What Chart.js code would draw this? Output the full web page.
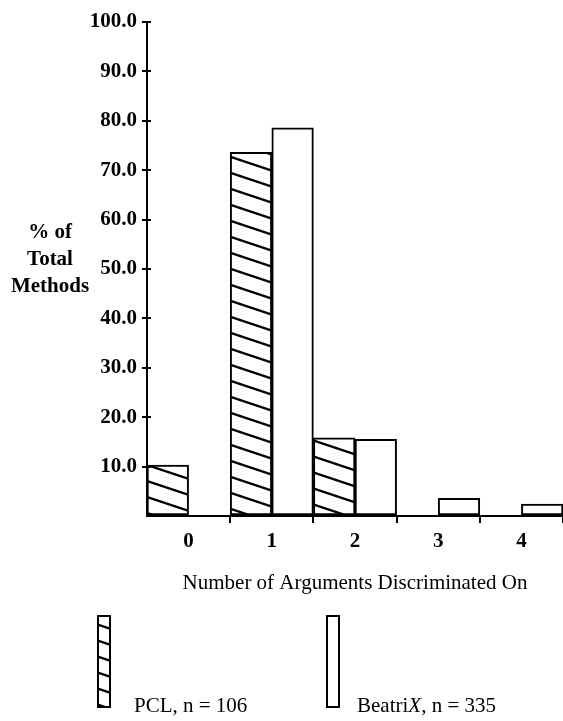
<!DOCTYPE html>
<html>
<head>
<meta charset="utf-8">
<script src="https://cdn.jsdelivr.net/npm/chart.js@4/dist/chart.umd.min.js"></script>
<style>
html,body{margin:0;padding:0;background:#fff;}
#wrap{position:relative;width:563px;height:721px;}
canvas{display:block;}
</style>
</head>
<body>
<div id="wrap"><canvas id="c" width="563" height="721"></canvas></div>
<script>
const categories = ['0', '1', '2', '3', '4'];
const pclValues = [10.3, 73.6, 15.8, 0, 0];
const beatrixValues = [0, 78.6, 15.5, 3.6, 2.4];
const yTicks = [0, 10, 20, 30, 40, 50, 60, 70, 80, 90, 100];
const yTitleLines = ['% of', 'Total', 'Methods'];
const xTitle = 'Number of Arguments Discriminated On';
const pclLabel = 'PCL, n = 106';
const beatrixLabel = ['Beatri', 'X', ', n = 335'];

const FONT = '"Liberation Serif", "DejaVu Serif", serif';
const canvas = document.getElementById('c');
const ctx0 = canvas.getContext('2d');

function makeHatch() {
  const w = 48, h = 16;
  const c = document.createElement('canvas');
  c.width = w; c.height = h;
  const g = c.getContext('2d');
  g.fillStyle = '#fff'; g.fillRect(0, 0, w, h);
  g.strokeStyle = '#000'; g.lineWidth = 2.3;
  for (const dy of [-h, 0, h]) {
    g.beginPath(); g.moveTo(-w, -h + dy); g.lineTo(2 * w, 2 * h + dy); g.stroke();
  }
  return ctx0.createPattern(c, 'repeat');
}
const hatch = makeHatch();

const decorPlugin = {
  id: 'decor',
  afterDraw(chart) {
    const ctx = chart.ctx;
    const y = chart.scales.y;
    const area = chart.chartArea;
    ctx.save();
    // inner halves of y tick marks
    ctx.strokeStyle = '#000'; ctx.lineWidth = 2;
    yTicks.forEach(v => {
      if (v === 0) return;
      const py = Math.round(y.getPixelForValue(v));
      ctx.beginPath(); ctx.moveTo(area.left, py); ctx.lineTo(area.left + 4, py); ctx.stroke();
    });
    // y title (horizontal)
    ctx.fillStyle = '#000';
    ctx.font = 'bold 21px ' + FONT;
    ctx.textAlign = 'center'; ctx.textBaseline = 'middle';
    yTitleLines.forEach((t, i) => ctx.fillText(t, 50, 233 + i * 27));
    // legend
    const boxes = [
      {x: 98, fill: hatch},
      {x: 327, fill: '#fff'}
    ];
    boxes.forEach(b => {
      ctx.fillStyle = b.fill;
      ctx.fillRect(b.x, 616, 12, 91);
      ctx.strokeStyle = '#000'; ctx.lineWidth = 2;
      ctx.strokeRect(b.x, 616, 12, 91);
    });
    ctx.fillStyle = '#000';
    ctx.textAlign = 'left'; ctx.textBaseline = 'alphabetic';
    ctx.font = '21px ' + FONT;
    ctx.fillText(pclLabel, 134, 712);
    let x = 357;
    ctx.fillText(beatrixLabel[0], x, 712); x += ctx.measureText(beatrixLabel[0]).width;
    ctx.font = 'italic 21px ' + FONT;
    ctx.fillText(beatrixLabel[1], x, 712); x += ctx.measureText(beatrixLabel[1]).width;
    ctx.font = '21px ' + FONT;
    ctx.fillText(beatrixLabel[2], x, 712);
    ctx.restore();
  }
};

new Chart(canvas, {
  type: 'bar',
  data: {
    labels: categories,
    datasets: [
      {label: pclLabel, data: pclValues, backgroundColor: hatch, borderColor: '#000', borderWidth: 2, borderSkipped: false, barPercentage: 1, categoryPercentage: 1},
      {label: beatrixLabel.join(''), data: beatrixValues, backgroundColor: '#fff', borderColor: '#000', borderWidth: 2, borderSkipped: false, barPercentage: 1, categoryPercentage: 1}
    ]
  },
  options: {
    responsive: false,
    animation: false,
    devicePixelRatio: 1,
    layout: {padding: {top: 22, right: 0, bottom: 121, left: 0}},
    plugins: {legend: {display: false}, tooltip: {enabled: false}},
    scales: {
      x: {
        offset: true,
        grid: {
          offset: true, drawOnChartArea: false, tickLength: 7, lineWidth: 2,
          color: c => (c.index === 0 ? 'rgba(0,0,0,0)' : '#000')
        },
        border: {display: true, color: '#000', width: 2},
        ticks: {color: '#000', font: {family: FONT, size: 21, weight: 'bold'}, padding: 6},
        title: {display: true, text: xTitle, color: '#000', font: {family: FONT, size: 21}, padding: {top: 0, bottom: 4}},
        afterFit: s => { s.height = 84; }
      },
      y: {
        min: 0, max: 100,
        afterBuildTicks: s => { s.ticks = yTicks.map(v => ({value: v})); },
        grid: {
          drawOnChartArea: false, tickLength: 5, lineWidth: 2,
          color: c => (c.tick && c.tick.value === 0 ? 'rgba(0,0,0,0)' : '#000')
        },
        border: {display: true, color: '#000', width: 2},
        ticks: {
          color: '#000', font: {family: FONT, size: 21, weight: 'bold'}, padding: 5,
          callback: v => (v === 0 ? '' : Number(v).toFixed(1))
        },
        afterFit: s => { s.width = 147; }
      }
    }
  },
  plugins: [decorPlugin]
});
</script>
</body>
</html>
